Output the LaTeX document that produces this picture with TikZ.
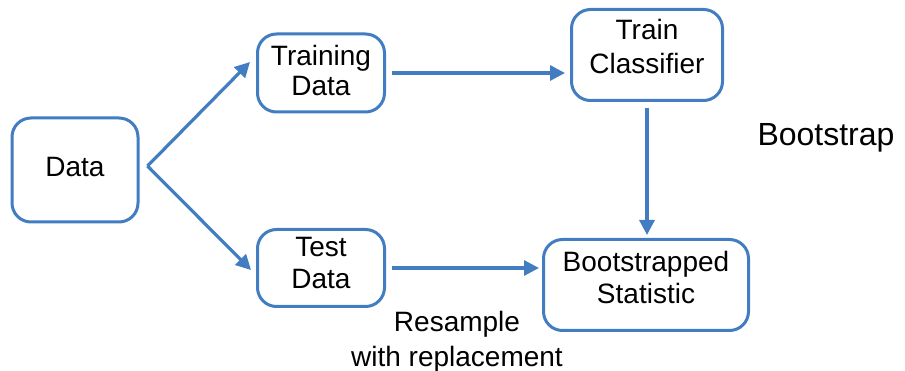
\documentclass[tikz,border=0pt]{standalone}
\usepackage{fontspec}
\setmainfont{Liberation Sans}
\usetikzlibrary{arrows.meta,calc}
\definecolor{flowblue}{RGB}{65,125,192}
\begin{document}
\begin{tikzpicture}[x=1pt,y=-1pt,
  box/.style={draw=flowblue, line width=3pt, rounded corners=19pt, inner sep=0pt},
  txt/.style={align=center, inner sep=0pt, font=\fontsize{28}{32}\selectfont},
  flow/.style={draw=flowblue, line width=3.2pt,
    -{Triangle[length=15pt,width=15pt]}}]
  \useasboundingbox (0,0) rectangle (905,371);

  % boxes
  \node[box, minimum width=126pt, minimum height=104pt] (data) at (75,170) {};
  \node[box, minimum width=127pt, minimum height=78pt] (train) at (321,73) {};
  \node[box, minimum width=127pt, minimum height=77pt] (test) at (321,268) {};
  \node[box, minimum width=151pt, minimum height=91pt] (clf) at (647,55) {};
  \node[box, minimum width=205pt, minimum height=91pt] (stat) at (646,285) {};

  % box texts, set a little above each box centre
  \node[txt] (data-t) at ($(data)+(0,-2.5)$) {Data};
  \node[txt, font=\fontsize{28}{30}\selectfont] (train-t) at ($(train)+(0,-3)$) {Training\\Data};
  \node[txt] (test-t) at ($(test)+(0,-5)$) {Test\\Data};
  \node[txt, font=\fontsize{28}{34}\selectfont] (clf-t) at ($(clf)+(0,-9)$) {Train\\Classifier};
  \node[txt] (stat-t) at ($(stat)+(0,-8)$) {Bootstrapped\\Statistic};

  % free labels
  \node[txt, font=\fontsize{32}{36}\selectfont] (title) at (826,138) {Bootstrap};
  \node[txt, font=\fontsize{28}{35}\selectfont] (resample) at (457,342) {Resample\\with replacement};

  % connectors
  \coordinate (split) at ($(data.east)+(8pt,4pt)$);
  \draw[flow] (split) -- ([xshift=-6pt,yshift=11pt]train.west);
  \draw[flow] (split) -- ([xshift=-5pt,yshift=-2pt]test.west);
  \draw[flow] ([xshift=6pt]train.east) -- ([xshift=-5pt]train.east -| clf.west);
  \draw[flow] ([xshift=6pt]test.east) -- ([xshift=-3pt]test.east -| stat.west);
  \draw[flow] ([yshift=-6pt]clf.south) -- ([yshift=3pt]clf.south |- stat.north);
\end{tikzpicture}
\end{document}
